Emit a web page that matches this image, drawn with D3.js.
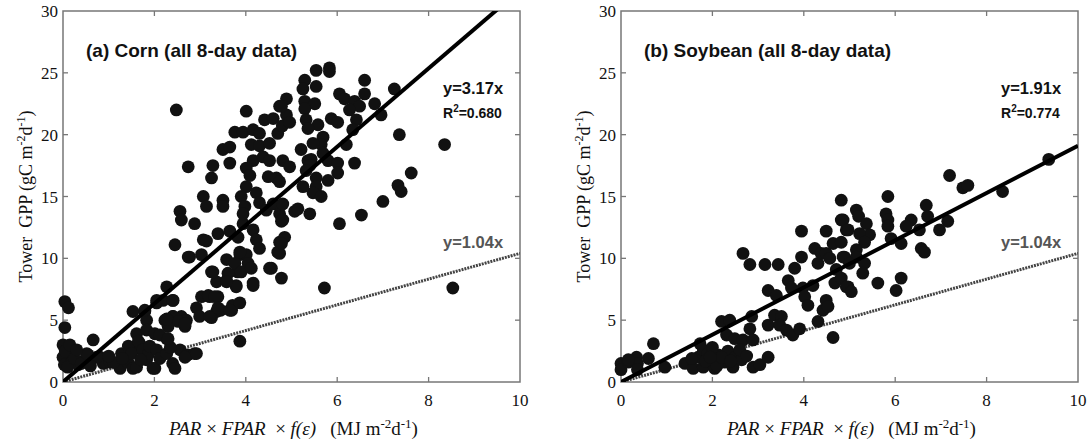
<!DOCTYPE html>
<html>
<head>
<meta charset="utf-8">
<script src="https://cdn.jsdelivr.net/npm/d3@7"></script>
<style>
  body { margin: 0; background: #fff; }
  svg { display: block; }
</style>
</head>
<body>
<svg id="chart" width="1087" height="443"></svg>
<script>
// values: [PAR x FPAR x f(e), tower GPP]
const cornPoints = [
  [0.04,6.5],[0.12,6.0],[0.04,4.4],[0,3.0],[0.1,2.6],[0,2.0],[0.03,1.4],[0.19,1.6],[0.33,1.4],[0.48,1.8],
  [0.66,3.4],[0.55,2.2],[0.81,2.0],[0.88,1.5],[1.03,1.6],[1.25,1.1],[1.42,1.6],[1.53,5.7],[1.57,2.7],[1.61,3.9],
  [1.68,3.1],[1.53,1.1],[1.79,5.7],[1.83,5.0],[1.83,4.2],[1.83,2.6],[1.83,1.8],[2.01,1.1],[2.01,3.9],[2.05,6.4],
  [2.19,6.6],[2.23,5.0],[2.27,3.5],[2.3,4.5],[2.4,6.6],[2.4,5.3],[2.4,1.5],[2.45,1.1],[2.56,2.6],[2.59,5.3],
  [2.67,4.5],[2.7,5.0],[2.73,2.2],[2.88,2.3],[2.77,10.1],[3.03,10.3],[2.92,6.0],[2.99,5.3],[3.03,6.9],[3.21,6.9],
  [3.25,5.2],[3.25,8.9],[3.36,8.1],[3.36,5.7],[3.39,6.9],[3.45,5.8],[3.58,8.2],[3.69,5.8],[3.71,6.2],[3.87,6.4],
  [3.79,7.8],[3.82,8.9],[3.87,10.3],[4.01,10.3],[4.05,9.6],[4.16,8.0],[3.87,3.3],[4.56,9.2],[4.74,10.4],[4.78,8.4],
  [0.1,1.2],[0.2,2.3],[0.05,2.5],[0.15,3.0],[0.25,1.9],[0.4,1.5],[0.52,2.3],[0.74,2.0],[1.1,1.6],[1.28,2.3],
  [1.43,2.9],[1.5,2.3],[1.65,3.3],[1.75,2.6],[1.86,2.2],[1.9,2.9],[2.05,2.6],[2.12,1.9],[2.27,2.3],[2.35,2.8],
  [1.61,1.2],[1.97,1.1],[1.7,1.8],[1.3,1.9],[1.0,2.1],[0.6,1.3],[0.3,2.6],[2.12,3.8],[2.3,3.5],[2.41,5.3],
  [2.52,4.9],[2.27,5.1],[2.67,4.7],[3.18,7.0],[3.32,6.9],[3.21,5.3],[3.39,6.0],[3.65,5.8],[2.67,2.0],[2.92,2.3],
  [2.27,7.7],[2.05,6.6],[2.41,6.6],[1.79,5.8],
  [2.48,22.0],[4.01,21.9],[2.74,17.4],[3.28,17.5],[3.25,16.5],[3.5,18.8],[3.65,19.0],[3.65,17.7],[3.76,20.2],[3.94,20.2],
  [4.16,20.4],[4.3,20.1],[4.41,21.2],[4.6,21.3],[4.74,22.3],[4.12,19.2],[4.3,19.1],[4.52,19.3],[4.7,20.1],[4.8,20.7],
  [4.16,17.9],[4.38,18.2],[4.52,17.9],[4.01,17.3],[4.09,16.7],[4.01,15.8],[4.49,16.6],[4.67,16.5],[4.23,15.3],[4.3,14.5],
  [3.07,15.0],[3.14,14.2],[3.5,14.7],[3.5,14.2],[3.9,15.0],[3.98,14.2],[2.56,13.8],[2.59,13.1],[2.45,11.1],[2.88,12.8],
  [3.07,11.5],[3.14,11.4],[3.39,12.0],[3.65,12.2],[3.83,11.7],[3.94,12.8],[3.94,13.6],[4.16,12.3],[4.23,11.5],[4.3,10.8],
  [4.45,13.9],[4.78,13.0],[4.74,11.3],[4.7,10.5],[2.74,10.1],[3.28,8.9],[3.58,9.9],[3.61,8.8],[3.76,9.6],[3.87,10.5],
  [3.9,8.9],[4.12,9.2],[4.16,7.8],[3.79,7.7],[3.58,8.1],[4.52,9.2],[4.74,16.2],[4.6,14.4],[4.74,13.6],
  [5.54,25.2],[5.83,25.4],[5.83,25.1],[5.29,24.4],[5.25,23.7],[5.54,23.9],[6.6,24.4],[7.25,23.7],[4.89,22.9],[6.05,23.3],
  [6.16,22.9],[6.6,23.3],[6.38,22.7],[6.49,22.3],[6.82,22.5],[6.27,22.0],[6.96,21.6],[5.29,22.7],[5.51,22.5],[5.29,22.1],
  [4.89,21.6],[4.96,21.0],[4.78,22.3],[5.32,21.2],[5.58,20.8],[5.87,21.3],[6.01,21.0],[6.42,21.2],[5.36,20.5],[6.34,20.4],
  [5.69,19.8],[5.65,19.2],[5.21,18.8],[5.47,19.3],[6.2,19.2],[7.36,20.0],[8.35,19.2],[4.81,17.9],[4.96,17.4],[5.36,17.9],
  [5.43,18.0],[5.4,17.5],[5.69,18.5],[5.8,17.9],[5.32,17.1],[6.01,17.7],[6.38,17.7],[6.01,16.9],[5.8,16.3],[5.54,16.5],
  [5.54,15.8],[5.47,15.3],[5.65,15.0],[5.25,15.8],[7.62,16.9],[7.33,15.9],[7.4,15.4],[7.0,14.6],[6.53,13.5],[6.05,12.8],
  [5.07,13.8],[5.14,14.0],[5.4,13.6],[4.81,14.4],[4.81,13.1],[4.85,11.7],[4.78,11.2],[5.72,7.6],[8.53,7.6]
];

const soyPoints = [
  [0,1.5],[0,1.0],[0.16,1.6],[0.34,2.0],[0.36,1.5],[0.36,1.0],[0.6,1.9],[0.71,3.1],[0.96,1.2],[0.16,1.8],
  [1.4,1.5],[1.58,1.1],[1.69,2.0],[1.73,3.1],[1.8,2.6],[1.8,1.2],[1.98,1.6],[2.05,1.1],[2.13,2.2],[2.27,1.6],
  [2.34,2.5],[2.45,1.2],[2.49,2.0],[2.2,4.9],[2.38,5.0],[2.31,3.8],[2.49,3.5],[2.67,3.4],[2.86,5.3],[2.82,4.3],
  [2.89,3.4],[2.64,1.8],[2.89,1.2],[3.04,1.4],[3.22,2.0],[2.67,10.4],[2.82,9.5],[3.15,9.5],[3.44,9.5],[3.22,7.4],
  [3.4,7.0],[3.22,4.6],[3.36,5.4],[3.51,5.3],[3.47,4.6],[3.62,4.2],[3.76,3.8],[3.91,4.3],[3.66,8.2],[3.73,7.6],
  [3.8,9.2],[3.95,10.1],[3.95,12.2],[3.98,7.6],[4.02,6.9],[4.09,6.2],[4.2,7.8],[4.24,10.8],[4.31,9.6],[4.38,10.4],
  [4.49,12.2],[4.49,10.4],[4.64,11.2],[4.57,10.0],[4.82,14.7],[4.82,13.1],[4.93,12.3],[4.89,10.1],[4.71,9.1],[4.68,8.0],
  [4.49,6.6],[4.42,5.8],[4.31,4.9],[4.64,3.6],[4.97,7.7],[4.53,6.1],[1.9,2.3],[2.1,1.3],[2.0,2.8],[2.2,2.0],[1.85,1.7],
  [1.55,1.9],[2.6,2.6],[2.75,2.1],[1.95,2.0],[2.4,1.7],
  [7.19,16.7],[7.48,15.7],[7.59,15.9],[8.35,15.4],[9.36,18.0],[5.84,15.0],[5.15,13.9],[5.2,13.4],[4.86,13.1],[5.8,13.6],
  [5.84,13.1],[5.84,12.6],[6.68,14.3],[6.71,13.4],[6.35,13.1],[6.24,12.6],[6.53,12.3],[4.97,12.3],[5.37,12.8],[5.44,11.9],
  [5.22,12.0],[5.33,11.3],[5.91,11.6],[6.13,11.2],[7.15,13.0],[6.97,12.3],[6.57,10.8],[6.64,10.5],[4.82,11.3],[4.86,10.1],
  [5.15,10.7],[5.15,10.1],[5.0,9.6],[5.33,9.6],[5.29,8.8],[4.82,8.4],[4.93,7.7],[5.04,7.3],[5.62,8.0],[6.02,7.4],[6.13,8.4]
];

const panelTitles = ["(a) Corn (all 8-day data)", "(b) Soybean (all 8-day data)"];
const fitSlopes = [3.17, 1.91];
const fitR2 = ["0.680", "0.774"];
const refSlope = 1.04;
const xTicks = [0, 2, 4, 6, 8, 10];
const yTicks = [0, 5, 10, 15, 20, 25, 30];

const svg = d3.select("#chart");
const serif = "'Liberation Serif', 'Times New Roman', serif";
const sans = "'Liberation Sans', Arial, sans-serif";

const panels = [
  {points: cornPoints, left: 63, right: 520},
  {points: soyPoints, left: 621, right: 1078}
];
const plotTop = 11, plotBottom = 382;

panels.forEach((p, i) => {
  const x = d3.scaleLinear().domain([0, 10]).range([p.left, p.right]);
  const y = d3.scaleLinear().domain([0, 30]).range([plotBottom, plotTop]);
  const g = svg.append("g");

  const clipId = "clip" + i;
  svg.append("clipPath").attr("id", clipId)
    .append("rect")
    .attr("x", p.left).attr("y", plotTop)
    .attr("width", p.right - p.left).attr("height", plotBottom - plotTop);

  // frame
  g.append("rect")
    .attr("x", p.left).attr("y", plotTop)
    .attr("width", p.right - p.left).attr("height", plotBottom - plotTop)
    .attr("fill", "none").attr("stroke", "#777").attr("stroke-width", 1.5);

  // inward ticks on all four sides
  const tl = 5;
  g.selectAll("line.xt").data(xTicks.slice(1, -1)).enter().append("line")
    .attr("x1", d => x(d)).attr("x2", d => x(d))
    .attr("y1", plotBottom).attr("y2", plotBottom - tl)
    .attr("stroke", "#777").attr("stroke-width", 1.3);
  g.selectAll("line.xt2").data(xTicks.slice(1, -1)).enter().append("line")
    .attr("x1", d => x(d)).attr("x2", d => x(d))
    .attr("y1", plotTop).attr("y2", plotTop + tl)
    .attr("stroke", "#777").attr("stroke-width", 1.3);
  g.selectAll("line.yt").data(yTicks.slice(1, -1)).enter().append("line")
    .attr("x1", p.left).attr("x2", p.left + tl)
    .attr("y1", d => y(d)).attr("y2", d => y(d))
    .attr("stroke", "#777").attr("stroke-width", 1.3);
  g.selectAll("line.yt2").data(yTicks.slice(1, -1)).enter().append("line")
    .attr("x1", p.right).attr("x2", p.right - tl)
    .attr("y1", d => y(d)).attr("y2", d => y(d))
    .attr("stroke", "#777").attr("stroke-width", 1.3);

  // tick labels
  g.selectAll("text.xl").data(xTicks).enter().append("text")
    .attr("x", d => x(d)).attr("y", 406)
    .attr("text-anchor", "middle")
    .attr("font-family", serif).attr("font-size", 17).attr("fill", "#111")
    .text(d => d);
  g.selectAll("text.yl").data(yTicks).enter().append("text")
    .attr("x", p.left - 5).attr("y", d => y(d) + 6)
    .attr("text-anchor", "end")
    .attr("font-family", serif).attr("font-size", 17).attr("fill", "#111")
    .text(d => d);

  // reference line y = 1.04x (dashed) and fitted line
  const line = d3.line().x(d => x(d[0])).y(d => y(d[1]));
  g.append("path")
    .attr("d", line([[0, 0], [10, refSlope * 10]]))
    .attr("clip-path", `url(#${clipId})`)
    .attr("fill", "none").attr("stroke", "#444")
    .attr("stroke-width", 3).attr("stroke-dasharray", "2,1");

  g.append("g").selectAll("circle").data(p.points).enter().append("circle")
    .attr("cx", d => x(d[0])).attr("cy", d => y(d[1]))
    .attr("r", 6.4).attr("fill", "#111");

  g.append("path")
    .attr("d", line([[0, 0], [10, fitSlopes[i] * 10]]))
    .attr("clip-path", `url(#${clipId})`)
    .attr("fill", "none").attr("stroke", "#000").attr("stroke-width", 4);

  // title
  g.append("text")
    .attr("x", p.left + 23).attr("y", 57)
    .attr("font-family", sans).attr("font-weight", "bold").attr("font-size", 19)
    .attr("fill", "#111")
    .text(panelTitles[i]);

  // equation labels
  g.append("text")
    .attr("x", p.right - 77).attr("y", 94)
    .attr("font-family", sans).attr("font-weight", "bold").attr("font-size", 16.5)
    .attr("fill", "#111")
    .text(`y=${fitSlopes[i]}x`);
  const r2 = g.append("text")
    .attr("x", p.right - 77).attr("y", 118)
    .attr("font-family", sans).attr("font-weight", "bold").attr("font-size", 14)
    .attr("fill", "#111");
  r2.append("tspan").text("R");
  r2.append("tspan").attr("dy", -6).attr("font-size", 10).text("2");
  r2.append("tspan").attr("dy", 6).text("=" + fitR2[i]);

  g.append("text")
    .attr("x", p.right - 77).attr("y", 248)
    .attr("font-family", sans).attr("font-weight", "bold").attr("font-size", 16.5)
    .attr("fill", "#555")
    .text(`y=${refSlope}x`);

  // x axis label
  const xl = g.append("text")
    .attr("x", (p.left + p.right) / 2 + 2).attr("y", 435)
    .attr("text-anchor", "middle")
    .attr("font-family", serif).attr("font-size", 19).attr("fill", "#111");
  xl.append("tspan").attr("font-style", "italic").text("PAR");
  xl.append("tspan").text(" × ");
  xl.append("tspan").attr("font-style", "italic").text("FPAR");
  xl.append("tspan").text("\u00a0 × ");
  xl.append("tspan").attr("font-style", "italic").text("f(ε)");
  xl.append("tspan").text("\u00a0\u00a0 (MJ m");
  xl.append("tspan").attr("dy", -7).attr("font-size", 13).text("-2");
  xl.append("tspan").attr("dy", 7).text("d");
  xl.append("tspan").attr("dy", -7).attr("font-size", 13).text("-1");
  xl.append("tspan").attr("dy", 7).text(")");

  // y axis label
  const yl = g.append("text")
    .attr("transform", `translate(${p.left - 31},${(plotTop + plotBottom) / 2}) rotate(-90)`)
    .attr("text-anchor", "middle")
    .attr("font-family", serif).attr("font-size", 18).attr("fill", "#111");
  yl.append("tspan").text("Tower\u00a0 GPP (gC m");
  yl.append("tspan").attr("dy", -7).attr("font-size", 12).text("-2");
  yl.append("tspan").attr("dy", 7).text("d");
  yl.append("tspan").attr("dy", -7).attr("font-size", 12).text("-1");
  yl.append("tspan").attr("dy", 7).text(")");
});
</script>
</body>
</html>
